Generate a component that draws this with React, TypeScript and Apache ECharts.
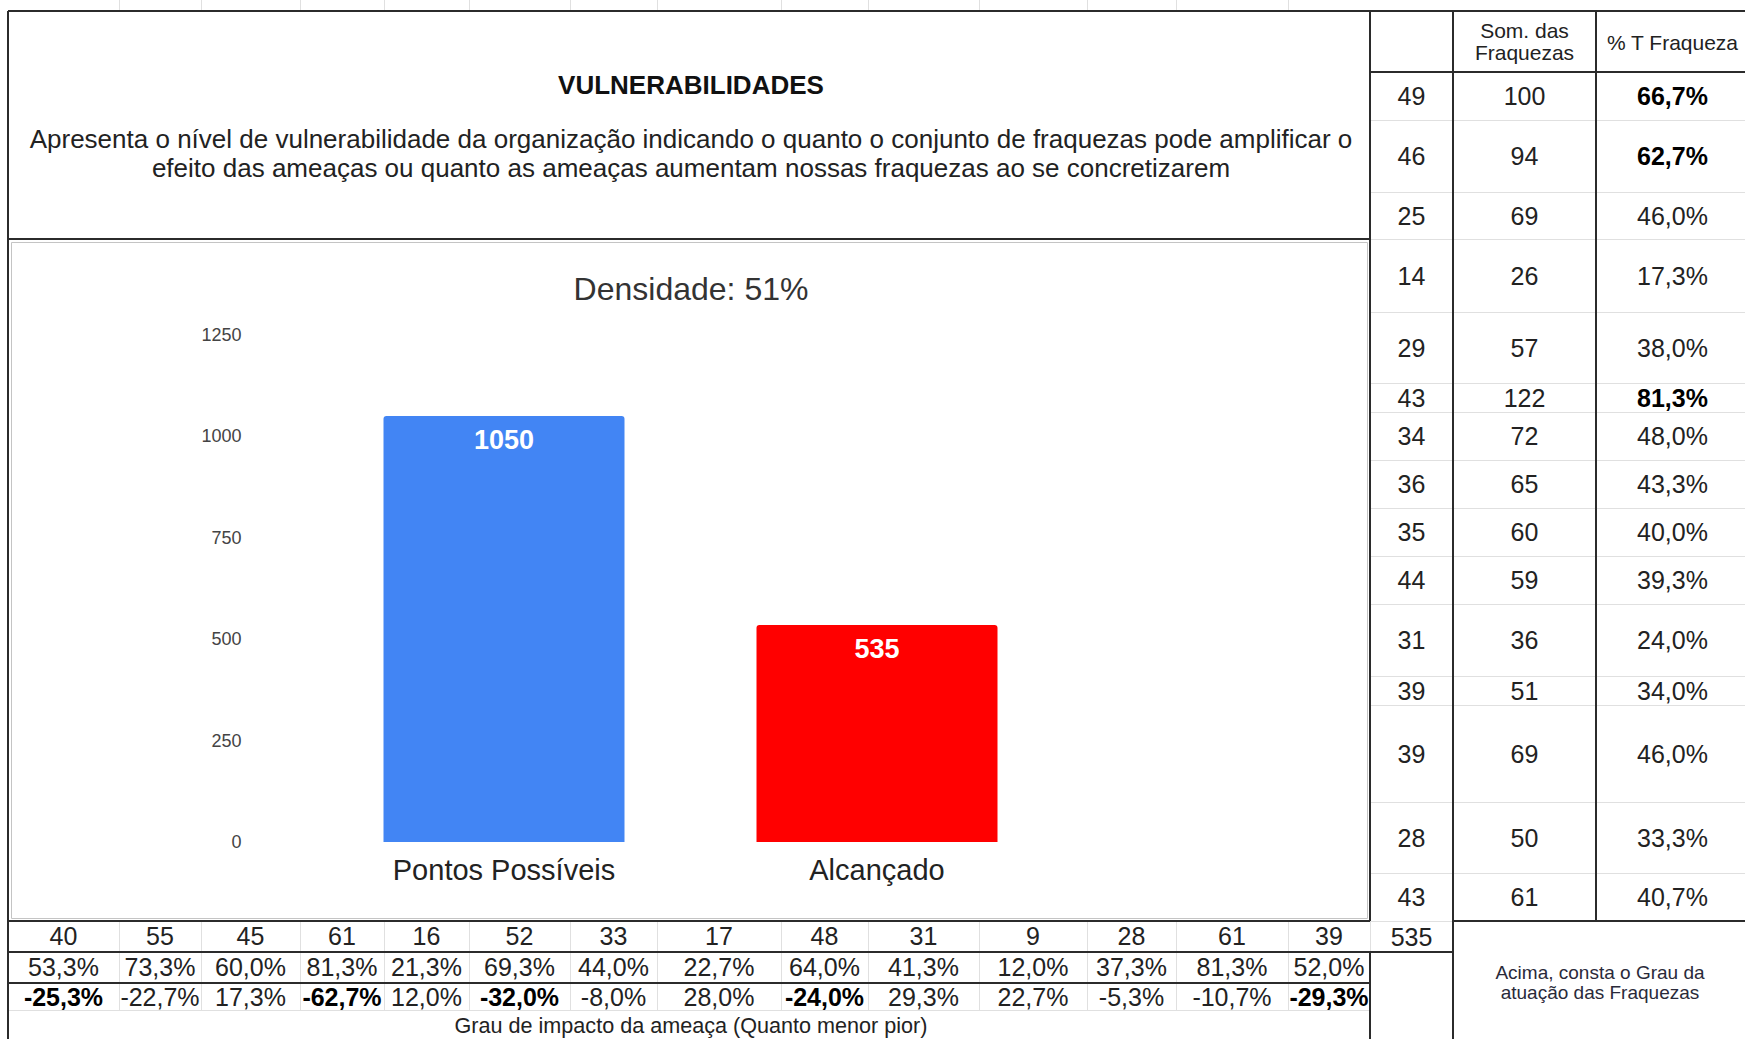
import React, { useEffect, useRef } from 'react';
import * as echarts from 'echarts';

// ---------- DATA ----------
const categories = ['Pontos Possíveis', 'Alcançado'];
const barValues = [1050, 535];
const barColors = ['#4285F4', '#FF0000'];
const chartTitle = 'Densidade: 51%';
const yMin = 0;
const yMax = 1250;
const yInterval = 250;

const headerTitle = 'VULNERABILIDADES';
const headerLines = [
  'Apresenta o nível de vulnerabilidade da organização indicando o quanto o conjunto de fraquezas pode amplificar o',
  'efeito das ameaças ou quanto as ameaças aumentam nossas fraquezas ao se concretizarem',
];

const tableHeader = ['', 'Som. das\nFraquezas', '% T Fraqueza'];
const weakIds = [49, 46, 25, 14, 29, 43, 34, 36, 35, 44, 31, 39, 39, 28, 43];
const weakSums = [100, 94, 69, 26, 57, 122, 72, 65, 60, 59, 36, 51, 69, 50, 61];
const weakPct = ['66,7%', '62,7%', '46,0%', '17,3%', '38,0%', '81,3%', '48,0%', '43,3%', '40,0%', '39,3%', '24,0%', '34,0%', '46,0%', '33,3%', '40,7%'];
const weakPctBold = [true, true, false, false, false, true, false, false, false, false, false, false, false, false, false];
const weakTotal = '535';
const weakNote = 'Acima, consta o Grau da\natuação das Fraquezas';

const threatValues = [40, 55, 45, 61, 16, 52, 33, 17, 48, 31, 9, 28, 61, 39];
const threatPct = ['53,3%', '73,3%', '60,0%', '81,3%', '21,3%', '69,3%', '44,0%', '22,7%', '64,0%', '41,3%', '12,0%', '37,3%', '81,3%', '52,0%'];
const threatImpact = ['-25,3%', '-22,7%', '17,3%', '-62,7%', '12,0%', '-32,0%', '-8,0%', '28,0%', '-24,0%', '29,3%', '22,7%', '-5,3%', '-10,7%', '-29,3%'];
const threatImpactBold = [true, false, false, true, false, true, false, false, true, false, false, false, false, true];
const threatCaption = 'Grau de impacto da ameaça (Quanto menor pior)';

// ---------- LAYOUT ----------
const W = 1745;
const H = 1039;
const bottomCols = [8, 119, 201, 300, 384, 469, 570, 657, 781, 868, 979, 1087, 1176, 1288, 1370];
const bottomRows = [921, 952, 983, 1010, 1039];
const rightCols = [1370, 1453, 1596, 1745];
const rightRows = [72, 120, 192, 239, 312, 383, 412, 460, 508, 556, 604, 676, 705, 802, 873, 921];
const FONT = '"Liberation Sans", Arial, sans-serif';

function buildGraphics() {
  const els: any[] = [];
  const dark = '#2b2b2b';
  const light = '#e0e0e0';
  const line = (x1: number, y1: number, x2: number, y2: number, stroke: string, lw: number) =>
    els.push({ type: 'line', silent: true, z: 10, shape: { x1, y1, x2, y2 }, style: { stroke, lineWidth: lw } });
  const text = (t: string, x: number, y: number, size: number, bold = false, fill = '#222', extra: any = {}) =>
    els.push({
      type: 'text', silent: true, z: 11,
      style: { text: t, x, y, textAlign: 'center', textVerticalAlign: 'middle', fontSize: size, fontWeight: bold ? 'bold' : 'normal', fontFamily: FONT, fill: fill, ...extra },
    });

  // faint spreadsheet grid above
  bottomCols.slice(1, -1).forEach((x) => line(x + 0.5, 0, x + 0.5, 11, light, 1));

  // chart frame (light grey)
  els.push({ type: 'rect', silent: true, z: 9, shape: { x: 11.5, y: 242.5, width: 1356, height: 676 }, style: { fill: 'none', stroke: '#c4c4c4', lineWidth: 1 } });

  // right table light row lines
  rightRows.slice(1, -1).forEach((y) => line(rightCols[0], y + 0.5, W, y + 0.5, light, 1));
  // bottom table light separators
  bottomCols.slice(1, -1).forEach((x) => line(x + 0.5, bottomRows[0], x + 0.5, bottomRows[3], light, 1));
  line(bottomCols[0], bottomRows[3] + 0.5, rightCols[0], bottomRows[3] + 0.5, light, 1);
  line(rightCols[0], bottomRows[0] + 0.5, rightCols[1], bottomRows[0] + 0.5, light, 1);
  line(rightCols[0] + 0.5, bottomRows[0], rightCols[0] + 0.5, bottomRows[1], light, 1);

  // dark lines
  line(8, 11, W, 11, dark, 2);
  line(8, 11, 8, H, dark, 2);
  line(8, 239, rightCols[0], 239, dark, 2);
  line(rightCols[0], 11, rightCols[0], bottomRows[0], dark, 2);
  line(rightCols[0], bottomRows[1], rightCols[0], H, dark, 2);
  line(rightCols[1], 11, rightCols[1], H, dark, 2);
  line(rightCols[2], 11, rightCols[2], bottomRows[0], dark, 2);
  line(rightCols[0], rightRows[0], W, rightRows[0], dark, 2);
  line(8, bottomRows[0], rightCols[0], bottomRows[0], dark, 2);
  line(rightCols[1], bottomRows[0], W, bottomRows[0], dark, 2);
  line(8, bottomRows[1], rightCols[1], bottomRows[1], dark, 2);
  line(8, bottomRows[2], rightCols[0], bottomRows[2], dark, 2);

  // header texts
  text(headerTitle, 691, 85, 26, true, '#111');
  text(headerLines[0], 691, 139, 26, false, '#222');
  text(headerLines[1], 691, 168, 26, false, '#222');

  // right table header
  text(tableHeader[1], (rightCols[1] + rightCols[2]) / 2, 41, 21, false, '#222', { lineHeight: 22 });
  text(tableHeader[2], (rightCols[2] + rightCols[3]) / 2 + 2, 42, 21, false, '#222');

  // right table body
  for (let i = 0; i < weakIds.length; i++) {
    const cy = (rightRows[i] + rightRows[i + 1]) / 2;
    text(String(weakIds[i]), (rightCols[0] + rightCols[1]) / 2, cy, 25);
    text(String(weakSums[i]), (rightCols[1] + rightCols[2]) / 2, cy, 25);
    text(weakPct[i], (rightCols[2] + rightCols[3]) / 2 + 2, cy, 25, weakPctBold[i], weakPctBold[i] ? '#000' : '#222');
  }
  text(weakTotal, (rightCols[0] + rightCols[1]) / 2, (bottomRows[0] + bottomRows[1]) / 2, 25);
  text(weakNote, (rightCols[1] + rightCols[3]) / 2 + 1, 982, 19, false, '#2a2a3a', { lineHeight: 20 });

  // bottom table
  for (let i = 0; i < threatValues.length; i++) {
    const cx = (bottomCols[i] + bottomCols[i + 1]) / 2;
    text(String(threatValues[i]), cx, (bottomRows[0] + bottomRows[1]) / 2 - 1, 25);
    text(threatPct[i], cx, (bottomRows[1] + bottomRows[2]) / 2 - 1, 25);
    text(threatImpact[i], cx, (bottomRows[2] + bottomRows[3]) / 2, 25, threatImpactBold[i], threatImpactBold[i] ? '#000' : '#222');
  }
  text(threatCaption, 691, (bottomRows[3] + bottomRows[4]) / 2 + 1, 21.6, false, '#222');
  return els;
}

export default function App() {
  const ref = useRef<HTMLDivElement>(null);
  useEffect(() => {
    document.body.style.margin = '0';
    const chart = echarts.init(ref.current!, null, { renderer: 'svg' });
    chart.setOption({
      animation: false,
      backgroundColor: '#ffffff',
      title: {
        text: chartTitle,
        left: 686,
        top: 268,
        textAlign: 'center',
        textStyle: { fontSize: 32, fontWeight: 'normal', color: '#333', fontFamily: FONT },
      },
      grid: { left: 317.5, top: 335, width: 746, height: 507, containLabel: false },
      xAxis: {
        type: 'category',
        data: categories,
        axisLine: { show: false },
        axisTick: { show: false },
        axisLabel: { fontSize: 29, color: '#222', margin: 13, fontFamily: FONT },
      },
      yAxis: {
        type: 'value',
        min: yMin,
        max: yMax,
        interval: yInterval,
        splitLine: { show: false },
        axisLine: { show: false },
        axisTick: { show: false },
        axisLabel: { fontSize: 18, color: '#444', margin: 76, fontFamily: FONT, formatter: (v: number) => String(v) },
      },
      series: [
        {
          type: 'bar',
          barWidth: 241,
          data: barValues.map((v, i) => ({ value: v, itemStyle: { color: barColors[i], borderRadius: [3, 3, 0, 0] } })),
          label: {
            show: true,
            position: 'insideTop',
            distance: 10,
            color: '#ffffff',
            fontSize: 27,
            fontWeight: 'bold',
            fontFamily: FONT,
          },
        },
      ],
      graphic: buildGraphics(),
    });
    return () => chart.dispose();
  }, []);
  return <div ref={ref} style={{ width: W, height: H, background: '#fff' }} />;
}
